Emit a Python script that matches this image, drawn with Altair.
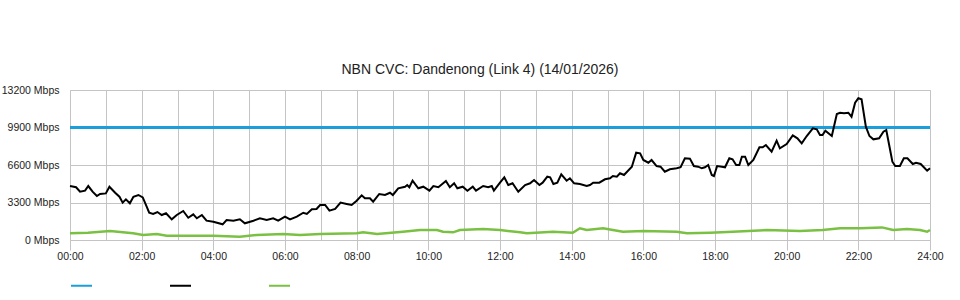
import altair as alt
import pandas as pd

TITLE = "NBN CVC: Dandenong (Link 4) (14/01/2026)"
SERIES = ["Capacity", "Download", "Upload"]
COLORS = ["#1a9fdb", "#000000", "#7ac143"]

y_ticks = [0, 3300, 6600, 9900, 13200]
x_ticks = list(range(0, 25))

cap_hours = [0.0, 24.0]
cap_mbps = [9900, 9900]

dl_hours = [0.00, 0.17, 0.28, 0.42, 0.51, 0.63, 0.75, 0.84, 1.00, 1.10, 1.26, 1.38, 1.47, 1.56, 1.67, 1.77,
            1.91, 2.03, 2.14, 2.21, 2.32, 2.44, 2.56, 2.68, 2.84, 2.98, 3.16, 3.30, 3.44, 3.54, 3.68, 3.81,
            4.00, 4.26, 4.37, 4.56, 4.74, 4.88, 5.12, 5.30, 5.49, 5.67, 5.81, 6.00, 6.14, 6.33, 6.51, 6.61,
            6.75, 6.88, 6.98, 7.12, 7.24, 7.40, 7.55, 7.72, 7.86, 8.00, 8.14, 8.23, 8.37, 8.46, 8.63, 8.79,
            8.93, 9.01, 9.16, 9.35, 9.41, 9.47, 9.56, 9.72, 9.86, 10.03, 10.14, 10.28, 10.49, 10.60, 10.72,
            10.81, 10.96, 11.09, 11.24, 11.33, 11.53, 11.67, 11.77, 11.83, 12.00, 12.12, 12.23, 12.35, 12.51,
            12.70, 12.84, 12.95, 13.10, 13.19, 13.32, 13.40, 13.49, 13.60, 13.71, 13.86, 13.95, 14.07, 14.23,
            14.42, 14.51, 14.60, 14.77, 14.93, 15.07, 15.15, 15.26, 15.35, 15.46, 15.68, 15.80, 15.91, 16.00,
            16.14, 16.23, 16.37, 16.48, 16.60, 16.74, 16.93, 17.04, 17.16, 17.30, 17.41, 17.53, 17.63, 17.72,
            17.81, 17.91, 17.97, 18.06, 18.19, 18.28, 18.40, 18.49, 18.59, 18.68, 18.75, 18.84, 18.93, 19.07,
            19.24, 19.33, 19.42, 19.58, 19.72, 19.81, 20.00, 20.17, 20.30, 20.42, 20.56, 20.73, 20.84, 20.93,
            21.00, 21.08, 21.26, 21.40, 21.49, 21.60, 21.72, 21.81, 21.91, 22.00, 22.09, 22.21, 22.31, 22.42,
            22.58, 22.70, 22.78, 22.87, 22.95, 23.03, 23.16, 23.27, 23.37, 23.52, 23.61, 23.74, 23.92, 24.00]
dl_mbps = [4750, 4640, 4250, 4340, 4750, 4250, 3870, 4050, 4100, 4690, 4160, 3810, 3290, 3580, 3230, 3810,
           3960, 3750, 2930, 2400, 2290, 2460, 2200, 2350, 1820, 2200, 2550, 1960, 2260, 1910, 2200, 1700,
           1610, 1380, 1760, 1700, 1820, 1470, 1700, 1910, 1760, 1910, 1700, 2050, 1820, 2050, 2400, 2290,
           2700, 2730, 3080, 3080, 2580, 2730, 3290, 3170, 3080, 3460, 3930, 3670, 3670, 3370, 4050, 3960,
           4160, 3960, 4550, 4690, 4840, 4640, 5220, 4550, 4690, 4340, 4750, 4640, 5190, 4640, 4990,
           4550, 4690, 4340, 4690, 4340, 4750, 4640, 4750, 4340, 5045, 5510, 4840, 4990, 4250,
           4840, 4990, 5280, 4840, 5045, 5570, 5510, 4930, 5045, 5780, 5220, 5430, 4990, 4930,
           4750, 4840, 5045, 5045, 5340, 5430, 5630, 5570, 5870, 5720, 6450, 7680, 7630, 7040,
           6800, 7040, 6510, 6450, 6010, 6220, 6310, 6400, 7190, 7160, 6510, 6450, 6310, 6400,
           6600, 5720, 5630, 6510, 6450, 6400, 7190, 7100, 6600, 6600, 7330, 7330, 6600, 7040,
           8160, 8160, 8360, 7770, 8740, 8070, 8450, 9210, 8950, 8510, 9150, 9830, 9740, 9240,
           9240, 9620, 9150, 11090, 11200, 11150, 11200, 10850, 12080, 12470, 12380, 9970, 9150, 8860,
           8950, 9530, 9680, 8210, 6890, 6510, 6510, 7190, 7190, 6690, 6800, 6690, 6100, 6310]

ul_hours = [0.00, 0.50, 1.12, 1.76, 2.04, 2.42, 2.70, 4.00, 4.74, 5.21, 5.95, 6.42, 6.98, 8.00, 8.18, 8.57,
            9.29, 9.77, 10.24, 10.41, 10.69, 10.88, 11.53, 12.00, 12.56, 12.75, 13.48, 14.03, 14.23, 14.42,
            14.88, 15.15, 15.43, 16.00, 16.93, 17.22, 17.86, 18.50, 19.45, 20.37, 21.00, 21.49, 22.05, 22.66,
            22.97, 23.36, 23.72, 23.92, 24.00]
ul_mbps = [590, 640, 790, 590, 440, 530, 380, 380, 290, 440, 530, 440, 530, 590, 675, 530,
           730, 880, 880, 730, 675, 880, 970, 880, 675, 590, 730, 640, 1030, 880,
           1030, 880, 730, 790, 730, 590, 640, 730, 880, 790, 880, 1030, 1030, 1110,
           880, 970, 880, 730, 880]

FONT = "Liberation Sans"

cap_df = pd.DataFrame({"hour": cap_hours, "mbps": cap_mbps, "series": SERIES[0]})
dl_df = pd.DataFrame({"hour": dl_hours, "mbps": dl_mbps, "series": SERIES[1]})
ul_df = pd.DataFrame({"hour": ul_hours, "mbps": ul_mbps, "series": SERIES[2]})

x_enc = alt.X(
    "hour:Q",
    scale=alt.Scale(domain=[0, 24], nice=False, zero=False),
    axis=alt.Axis(
        values=x_ticks,
        title=None,
        grid=True,
        domain=False,
        tickSize=10,
        tickColor="#c4c4c4",
        tickOpacity={"condition": {"test": "datum.value % 2 === 0", "value": 1}, "value": 0},
        labelExpr="datum.value % 2 === 0 ? (datum.value < 10 ? '0' : '') + datum.value + ':00' : ''",
        labelOverlap=False,
        labelFlush=False,
        labelPadding=1,
    ),
)
y_enc = alt.Y(
    "mbps:Q",
    scale=alt.Scale(domain=[0, 13200], nice=False),
    axis=alt.Axis(
        values=y_ticks,
        title=None,
        grid=True,
        domain=False,
        ticks=False,
        labelPadding=11,
        labelExpr="datum.value + ' Mbps'",
        labelBaseline="middle",
    ),
)
color_enc = alt.Color(
    "series:N",
    scale=alt.Scale(domain=SERIES, range=COLORS),
    legend=alt.Legend(
        title=None,
        orient="none",
        legendX=0,
        legendY=184,
        direction="horizontal",
        symbolType="stroke",
        symbolSize=441,
        symbolStrokeWidth=2,
        labelExpr="''",
        labelOffset=0,
        columnPadding=70,
    ),
)

cap = alt.Chart(cap_df).mark_line(strokeWidth=3).encode(x=x_enc, y=y_enc, color=color_enc)
ul = alt.Chart(ul_df).mark_line(strokeWidth=2.5).encode(x=x_enc, y=y_enc, color=color_enc)
dl = alt.Chart(dl_df).mark_line(strokeWidth=2).encode(x=x_enc, y=y_enc, color=color_enc)

chart = (
    alt.layer(cap, ul, dl)
    .properties(
        width=860,
        height=150,
        autosize=alt.AutoSizeParams(type="none"),
        padding={"left": 70, "top": 90, "right": 30, "bottom": 60},
        title=alt.TitleParams(
            text=TITLE,
            anchor="middle",
            dx=-20,
            dy=17,
            offset=14,
            baseline="alphabetic",
            font=FONT,
            fontSize=14,
            fontWeight="normal",
            color="#222222",
        ),
        background="#ffffff",
    )
    .configure_view(stroke="#c4c4c4", strokeWidth=1)
    .configure_axis(
        gridColor="#c4c4c4",
        gridWidth=1,
        labelFont=FONT,
        labelFontSize=10.5,
        labelColor="#222222",
    )
)

chart.save("out.html", embed_options={"renderer": "svg", "actions": False})
